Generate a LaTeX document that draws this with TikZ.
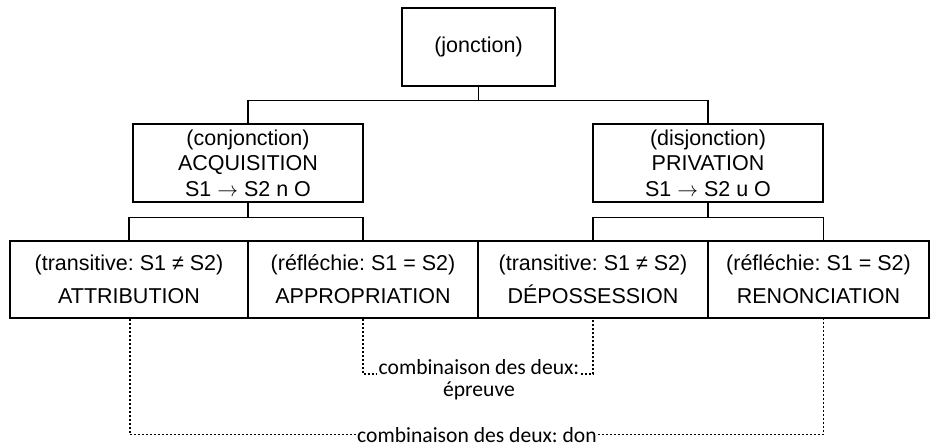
\documentclass[tikz,border=0pt]{standalone}
\usepackage{fontspec}
\setmainfont{Liberation Sans}
\newfontfamily\notefont{Carlito}
\frenchspacing
\newcommand{\givesto}{\ensuremath{\rightarrow}}
\begin{document}
\begin{tikzpicture}[x=1pt,y=-1pt,
  box/.style={draw,line width=1.4pt,inner sep=0pt,align=center,
    font=\fontsize{21.5}{25.5}\selectfont},
  leafbox/.style={box,minimum height=77pt,font=\fontsize{21.5}{33}\selectfont},
  link/.style={line width=1.4pt},
  dotlink/.style={line width=1.3pt,dash pattern=on 2pt off 2pt},
  note/.style={inner sep=0pt,inner xsep=1pt,font=\notefont\fontsize{21.6}{23}\selectfont}]
\useasboundingbox (0,0) rectangle (930,447);

% root and the two main branches
\node[box,minimum width=153pt,minimum height=78pt] (jonc) at (478.5,47) {(jonction)};
\node[box,minimum width=230pt,minimum height=78pt] (conj) at (248,163)
  {(conjonction)\\ACQUISITION\\S1 \givesto{} S2 n O};
\node[box,minimum width=230pt,minimum height=78pt] (disj) at (708,163)
  {(disjonction)\\PRIVATION\\S1 \givesto{} S2 u O};

% the four leaves
\node[leafbox,minimum width=238pt] (attr) at (129,279.5)
  {(transitive: S1 ≠ S2)\\ATTRIBUTION};
\node[leafbox,minimum width=230pt] (appr) at (363,279.5)
  {(réfléchie: S1 = S2)\\APPROPRIATION};
\node[leafbox,minimum width=230pt] (depo) at (593,279.5)
  {(transitive: S1 ≠ S2)\\DÉPOSSESSION};
\node[leafbox,minimum width=221pt] (reno) at (818.5,279.5)
  {(réfléchie: S1 = S2)\\RENONCIATION};

% tree connectors
\draw[link] (jonc.south) -- ++(0,14) coordinate (j1);
\draw[link] (conj.north) |- (j1) -| (disj.north);
\draw[link] (conj.south) -- ++(0,15) coordinate (c1);
\draw[link] (attr.north) |- (c1) -| (appr.north);
\draw[link] (disj.south) -- ++(0,15) coordinate (d1);
\draw[link] (depo.north) |- (d1) -| (reno.north -| disj.south east);

% combinations
\node[note,anchor=base] (epr) at (479,374) {combinaison des deux:};
\node[note,anchor=base] (epr2) at (479,396) {épreuve};
\node[note,anchor=base] (don) at (477,442) {combinaison des deux: don};

\draw[dotlink] (appr.south) |- (epr.base west);
\draw[dotlink] (epr.base east) -| (depo.south);
\draw[dotlink] ([xshift=1pt]attr.south) |- (don.west);
\draw[dotlink] (don.east) -| (reno.south -| disj.south east);
\end{tikzpicture}
\end{document}
